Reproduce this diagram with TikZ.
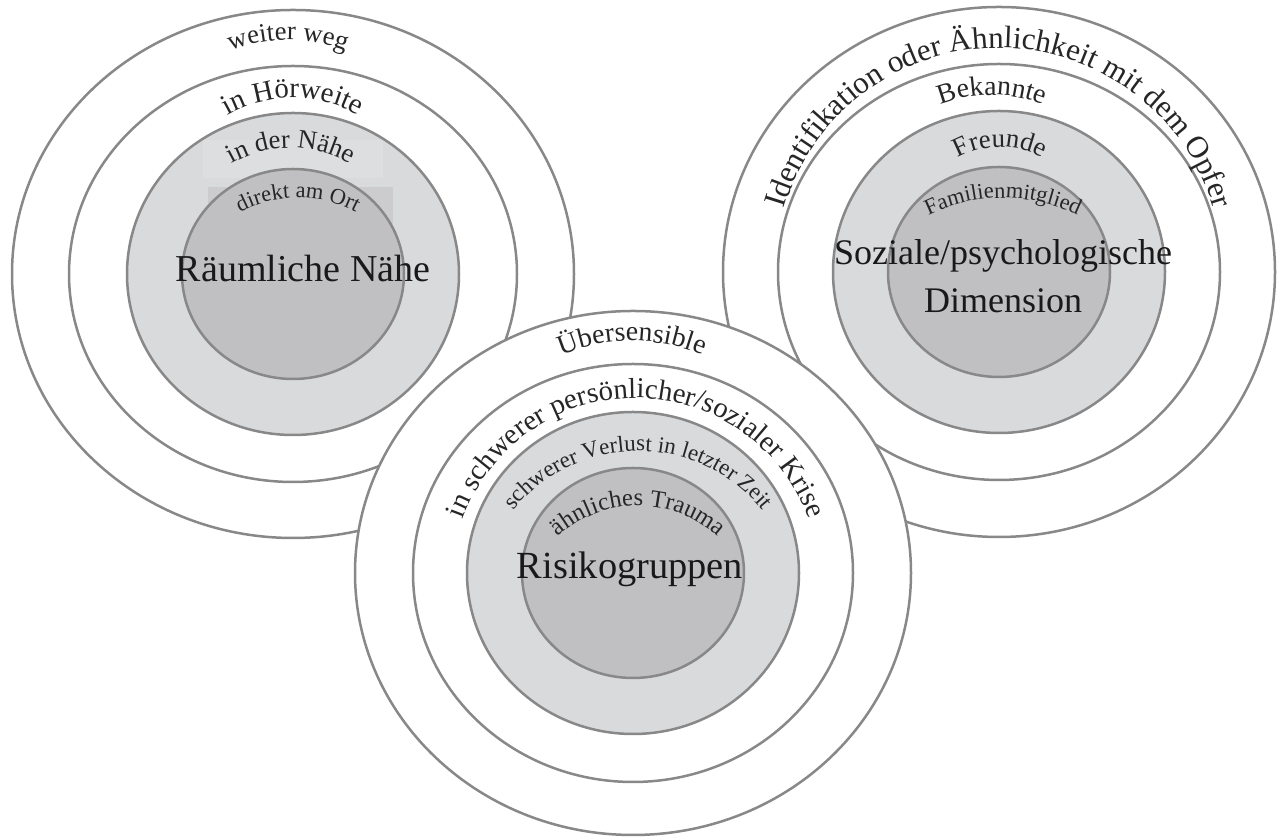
\documentclass[tikz,border=0pt]{standalone}
\usepackage{fontspec}
\setmainfont{Liberation Serif}
\usetikzlibrary{decorations.text}

\definecolor{ringline}{RGB}{136,136,136}
\definecolor{ringlight}{RGB}{217,218,220}
\definecolor{ringdark}{RGB}{192,192,194}
\definecolor{patchlight}{RGB}{221,222,224}
\definecolor{patchdark}{RGB}{204,204,206}

\tikzset{
  ring/.style={draw=ringline, line width=1.25pt},
  mainlabel/.style={font=\fontsize{19pt}{24pt}\selectfont, text=black!90},
  arclabel/.style 2 args={decorate, decoration={text along path,
      text align=center, text={|\fontsize{#1}{#1}\selectfont\color{black!85}|#2}}},
}

\begin{document}
\begin{tikzpicture}[x=0.5pt, y=0.5pt]
    \useasboundingbox (0,0) rectangle (1281,839);

    % raeumliche Naehe
    \draw[ring, fill=white] (293,565) ellipse [x radius=281, y radius=264];
    \draw[ring, fill=white] (293,565) ellipse [x radius=224, y radius=208];
    \draw[ring, fill=ringlight] (293,565) ellipse [x radius=166, y radius=161];
    \fill[patchlight] (203,661) rectangle (383,699);
    \fill[patchdark] (208,607) rectangle (393,652);
    \draw[ring, fill=ringdark] (293,565) ellipse [x radius=111, y radius=105];

    % soziale Dimension
    \draw[ring, fill=white] (999,567) ellipse [x radius=276, y radius=265];
    \draw[ring, fill=white] (999,567) ellipse [x radius=221, y radius=208];
    \draw[ring, fill=ringlight] (999,567) ellipse [x radius=166, y radius=161];
    \draw[ring, fill=ringdark] (999,567) ellipse [x radius=111, y radius=105];

    % Risikogruppen
    \draw[ring, fill=white] (633,266) ellipse [x radius=278, y radius=262];
    \draw[ring, fill=white] (633,266) ellipse [x radius=220, y radius=209];
    \draw[ring, fill=ringlight] (633,266) ellipse [x radius=166, y radius=161];
    \draw[ring, fill=ringdark] (633,266) ellipse [x radius=111, y radius=105];

    % ring labels
    \path[arclabel={13.3pt}{weiter weg}] ([shift={(170:160)}]288,639) arc [start angle=170, end angle=10, radius=160];
    \path[arclabel={14.4pt}{in Hörweite}] ([shift={(170:130)}]293,611) arc [start angle=170, end angle=10, radius=130];
    \path[arclabel={13.3pt}{in der Nähe}] ([shift={(170:120)}]291,571) arc [start angle=170, end angle=10, radius=120];
    \path[arclabel={11.2pt}{direkt am Ort}] ([shift={(170:125)}]298,516) arc [start angle=170, end angle=10, radius=125];

    \path[arclabel={15.5pt}{Identifikation oder Ähnlichkeit mit dem Opfer}] ([shift={(178:224)}]999,567) arc [start angle=178, end angle=2, radius=224];
    \path[arclabel={13.9pt}{Bekannte}] ([shift={(170:140)}]992,604) arc [start angle=170, end angle=10, radius=140];
    \path[arclabel={13.4pt}{Freunde}] ([shift={(170:85)}]1000,607) arc [start angle=170, end angle=10, radius=85];
    \path[arclabel={11.2pt}{Familienmitglied}] ([shift={(170:170)}]1003,471) arc [start angle=170, end angle=10, radius=170];

    \path[arclabel={13.9pt}{Übersensible}] ([shift={(170:180)}]632,318) arc [start angle=170, end angle=10, radius=180];
    \path[arclabel={14.4pt}{in schwerer persönlicher/sozialer Krise}] ([shift={(178:184)}]636,257) arc [start angle=178, end angle=2, radius=184];
    \path[arclabel={11.5pt}{schwerer Verlust in letzter Zeit}] ([shift={(170:160)}]638,228) arc [start angle=170, end angle=10, radius=160];
    \path[arclabel={12.3pt}{ähnliches Trauma}] ([shift={(170:120)}]638,213) arc [start angle=170, end angle=10, radius=120];

    % centre labels
    \node[mainlabel] (raeumlich) at (303,570) {Räumliche Nähe};
    \node[mainlabel, font=\fontsize{18pt}{24pt}\selectfont, align=center] (sozial) at (1003,563) {Soziale/psychologische\\Dimension};
    \node[mainlabel, font=\fontsize{19.2pt}{24pt}\selectfont] (risiko) at (630,270) {Risikogruppen};

\end{tikzpicture}
\end{document}
